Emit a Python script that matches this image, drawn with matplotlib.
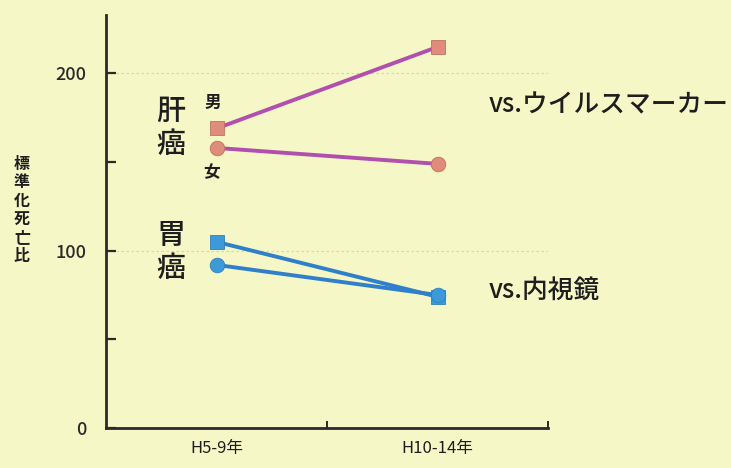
import matplotlib
matplotlib.use("Agg")
import matplotlib.pyplot as plt

plt.rcParams['font.family'] = ['Noto Sans CJK JP', 'DejaVu Sans']

periods = ["H5-9年", "H10-14年"]
liver_male = [169, 215]
liver_female = [158, 149]
stomach_male = [105, 74]
stomach_female = [92, 75]
y_tick_values = [0, 50, 100, 150, 200]
y_tick_labels = ["0", "", "100", "", "200"]
grid_levels = [100, 200]

bg = "#F6F7C6"
ink = "#1e1e1e"
fig = plt.figure(figsize=(7.31, 4.68), dpi=100, facecolor=bg)
ax = fig.add_axes([0.145, 0.0855, 0.605, 0.8825], facecolor=bg)

xs = [0.5, 1.5]
liver_line = "#B24FAE"
liver_mark = "#E08C7C"
stom_line = "#2F7FCB"
stom_mark = "#3C9AD8"

for lvl in grid_levels:
    ax.axhline(lvl, color="#D8D8A8", lw=0.9, ls=(0, (2, 2)), zorder=1)

ax.plot(xs, liver_male, color=liver_line, lw=2.8, marker="s", ms=9.5,
        mfc=liver_mark, mec="#C07060", mew=0.6, zorder=3)
ax.plot(xs, liver_female, color=liver_line, lw=2.8, marker="o", ms=10.5,
        mfc=liver_mark, mec="#C07060", mew=0.6, zorder=3)
ax.plot(xs, stomach_male, color=stom_line, lw=2.8, marker="s", ms=9.5,
        mfc=stom_mark, mec="#2F80C0", mew=0.6, zorder=3)
ax.plot(xs, stomach_female, color=stom_line, lw=2.8, marker="o", ms=10.5,
        mfc=stom_mark, mec="#2F80C0", mew=0.6, zorder=3)

ax.set_xlim(0, 2)
ax.set_ylim(0, 233)

for side in ("top", "right"):
    ax.spines[side].set_visible(False)
for side in ("left", "bottom"):
    ax.spines[side].set_linewidth(2.0)
    ax.spines[side].set_color("#2a2a2a")

ax.set_yticks(y_tick_values)
ax.set_yticklabels(y_tick_labels, fontsize=13, fontweight="medium", color=ink)
ax.tick_params(axis="y", direction="in", length=7, width=1.6, pad=14, colors="#2a2a2a")

ax.set_xticks([1, 2])
ax.set_xticklabels(["", ""])
ax.set_xticks(xs, minor=True)
ax.set_xticklabels(periods, minor=True, fontsize=12, color=ink)
ax.tick_params(axis="x", which="major", direction="in", length=5, width=1.4, colors="#2a2a2a")
ax.tick_params(axis="x", which="minor", length=0, pad=9)

# vertical axis title, one character per line
fig.text(22 / 731, 1 - 210 / 468, "標\n準\n化\n死\n亡\n比", fontsize=11.5,
         fontweight="bold", ha="center", va="center", linespacing=1.2, color=ink)

# group labels
fig.text(171 / 731, 1 - 128 / 468, "肝\n癌", fontsize=21, fontweight="medium",
         ha="center", va="center", linespacing=1.05, color=ink)
fig.text(171 / 731, 1 - 252 / 468, "胃\n癌", fontsize=21, fontweight="medium",
         ha="center", va="center", linespacing=1.05, color=ink)
fig.text(213 / 731, 1 - 103 / 468, "男", fontsize=12, fontweight="bold",
         ha="center", va="center", color=ink)
fig.text(212 / 731, 1 - 172 / 468, "女", fontsize=12, fontweight="bold",
         ha="center", va="center", color=ink)

fig.text(489 / 731, 1 - 105 / 468, "vs.ウイルスマーカー", fontsize=18.5, fontweight="medium",
         ha="left", va="center", color=ink)
fig.text(489 / 731, 1 - 290 / 468, "vs.内視鏡", fontsize=18.5, fontweight="medium",
         ha="left", va="center", color=ink)

fig.savefig("out.png", dpi=100, facecolor=bg)
